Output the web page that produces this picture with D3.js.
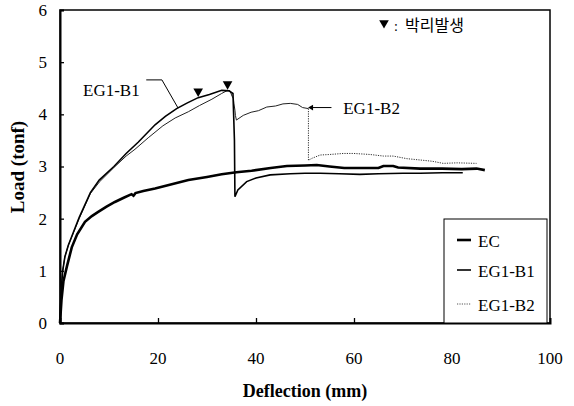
<!DOCTYPE html>
<html>
<head>
<meta charset="utf-8">
<script src="https://d3js.org/d3.v7.min.js"></script>
<style>
  body { margin: 0; background: #fff; }
  text { font-family: "Liberation Serif", "Times New Roman", serif; fill: #000; }
</style>
</head>
<body>
<script>
// ---- data (deflection mm, load tonf) ----
var ecX = [0, 0.3, 0.7, 1.4, 2.4, 3.5, 5.1, 6.5, 7.8, 9.5, 11.2, 13, 14.6, 15, 15.4, 17, 19.4, 22, 26.2, 30, 33, 36, 39.1, 43, 46.3, 50, 52.4, 55, 58, 62, 65, 66, 68, 69, 73.5, 78, 82, 85, 86.7];
var ecY = [0, 0.44, 0.8, 1.08, 1.45, 1.7, 1.94, 2.05, 2.13, 2.23, 2.32, 2.4, 2.47, 2.44, 2.49, 2.53, 2.58, 2.64, 2.74, 2.8, 2.85, 2.89, 2.92, 2.97, 3.01, 3.02, 3.03, 3.0, 2.97, 2.97, 2.97, 3.01, 3.01, 2.98, 2.96, 2.96, 2.95, 2.96, 2.93];

var b1X = [0, 0.2, 0.55, 1.0, 1.7, 3.9, 6.2, 8, 11, 13.5, 16, 19.4, 21.5, 23.8, 26, 28.2, 30.5, 33, 34.5, 35.3, 35.6, 35.7, 36.3, 38.1, 40, 42.9, 47, 50, 53.1, 57, 61.2, 65, 70, 73.5, 78, 82.2];
var b1Y = [0, 0.6, 1.0, 1.27, 1.49, 2.02, 2.5, 2.74, 3.0, 3.25, 3.47, 3.8, 3.96, 4.11, 4.22, 4.32, 4.38, 4.46, 4.45, 4.4, 3.5, 2.42, 2.55, 2.71, 2.78, 2.84, 2.86, 2.87, 2.87, 2.86, 2.85, 2.86, 2.87, 2.87, 2.88, 2.88];

var b2X = [0, 0.2, 0.55, 1.0, 1.7, 3.9, 6.2, 8, 11, 13.5, 15.3, 18, 21, 23.5, 26.2, 28.5, 31, 33, 34.2, 34.7, 35.1, 35.4, 35.5, 35.7, 35.8, 36, 37.4, 39, 40.5, 42.2, 44, 45.5, 47, 48.5, 49.5, 50.7, 50.7, 51.5, 53.1, 55, 57.8, 60, 63.3, 66, 68, 70.8, 74, 76, 78.2, 81, 85];
var b2Y = [0, 0.6, 1.0, 1.27, 1.49, 2.0, 2.48, 2.7, 2.98, 3.2, 3.33, 3.55, 3.78, 3.93, 4.05, 4.17, 4.29, 4.4, 4.46, 4.45, 4.35, 4.3, 4.2, 4.08, 3.98, 3.89, 3.98, 4.04, 4.07, 4.14, 4.16, 4.2, 4.21, 4.19, 4.13, 4.11, 3.12, 3.16, 3.22, 3.23, 3.25, 3.25, 3.23, 3.2, 3.2, 3.15, 3.12, 3.1, 3.06, 3.07, 3.06];
var b2Split = 35; // index where the trace turns dotted (vertical drop at ~50 mm)

// debonding markers (박리발생)
var markX = [28.2, 34.2];
var markY = [4.44, 4.58];

var xTicks = [0, 20, 40, 60, 80, 100];
var yTicks = [0, 1, 2, 3, 4, 5, 6];
var legendNames = ["EC", "EG1-B1", "EG1-B2"];

// ---- layout ----
var width = 574, height = 406;
var plotL = 60, plotR = 550, plotT = 10, plotB = 323;

var svg = d3.select("body").append("svg")
    .attr("width", width)
    .attr("height", height);

var x = d3.scaleLinear().domain([0, 100]).range([plotL, plotR]);
var y = d3.scaleLinear().domain([0, 6]).range([plotB, plotT]);

// frame
svg.append("rect")
    .attr("x", plotL).attr("y", plotT)
    .attr("width", plotR - plotL).attr("height", plotB - plotT)
    .attr("fill", "none").attr("stroke", "#000").attr("stroke-width", 1.5);

// axes with inward ticks
svg.append("g")
    .attr("transform", "translate(" + plotL + ",0)")
    .call(d3.axisRight(y).tickValues(yTicks).tickSize(4).tickFormat(""));
svg.append("g")
    .attr("transform", "translate(0," + plotB + ")")
    .call(d3.axisTop(x).tickValues(xTicks.slice(1, 5)).tickSize(5).tickFormat(""));
svg.selectAll(".domain").attr("stroke-width", 2);
svg.selectAll(".tick line").attr("stroke-width", 1.3);

// tick labels
svg.append("g").selectAll("text")
    .data(yTicks).enter().append("text")
    .attr("x", plotL - 13)
    .attr("y", function(d) { return y(d); })
    .attr("dy", "0.35em")
    .attr("text-anchor", "end")
    .style("font-size", "17px")
    .text(function(d) { return d; });

svg.append("g").selectAll("text")
    .data(xTicks).enter().append("text")
    .attr("x", function(d) { return x(d); })
    .attr("y", 364)
    .attr("text-anchor", "middle")
    .style("font-size", "17px")
    .text(function(d) { return d; });

// axis titles
svg.append("text")
    .attr("x", 305).attr("y", 397)
    .attr("text-anchor", "middle")
    .style("font-size", "18px").style("font-weight", "bold")
    .text("Deflection (mm)");

svg.append("text")
    .attr("transform", "translate(24,167) rotate(-90)")
    .attr("text-anchor", "middle")
    .style("font-size", "19px").style("font-weight", "bold")
    .text("Load (tonf)");

// curves
var line = d3.line()
    .x(function(d) { return x(d[0]); })
    .y(function(d) { return y(d[1]); });

function pts(xs, ys) { return xs.map(function(v, i) { return [v, ys[i]]; }); }

var b2 = pts(b2X, b2Y);
svg.append("path")
    .datum(b2.slice(0, b2Split + 1))
    .attr("d", line)
    .attr("fill", "none").attr("stroke", "#222").attr("stroke-width", 1);
svg.append("path")
    .datum(b2.slice(b2Split))
    .attr("d", line)
    .attr("fill", "none").attr("stroke", "#333").attr("stroke-width", 1)
    .attr("stroke-dasharray", "1.2,1.2");

svg.append("path")
    .datum(pts(b1X, b1Y))
    .attr("d", line)
    .attr("fill", "none").attr("stroke", "#000").attr("stroke-width", 1.6);

svg.append("path")
    .datum(pts(ecX, ecY))
    .attr("d", line)
    .attr("fill", "none").attr("stroke", "#000").attr("stroke-width", 2.6);

// debonding markers
var tri = d3.symbol().type(d3.symbolTriangle).size(40);
svg.append("g").selectAll("path")
    .data(markX).enter().append("path")
    .attr("d", tri)
    .attr("transform", function(d, i) { return "translate(" + x(d) + "," + y(markY[i]) + ") rotate(180)"; })
    .attr("fill", "#000");

// top-right note
svg.append("path")
    .attr("d", tri)
    .attr("transform", "translate(384,23) rotate(180)")
    .attr("fill", "#000");
svg.append("text")
    .attr("x", 394).attr("y", 31)
    .style("font-size", "14px")
    .text(":");
svg.append("text")
    .attr("x", 405).attr("y", 31)
    .style("font-family", "'Noto Sans CJK KR', sans-serif")
    .style("font-size", "16px")
    .text("박리발생");

// curve labels
svg.append("text")
    .attr("x", x(4.7)).attr("y", y(4.35))
    .style("font-size", "17px")
    .text("EG1-B1");
svg.append("path")
    .datum([[17.6, 4.66], [20.8, 4.66], [24.1, 4.12]])
    .attr("d", line)
    .attr("fill", "none").attr("stroke", "#000").attr("stroke-width", 1);

svg.append("text")
    .attr("x", x(57.8)).attr("y", y(4.0))
    .style("font-size", "17px")
    .text("EG1-B2");
svg.append("path")
    .datum([[55.4, 4.13], [51.2, 4.13]])
    .attr("d", line)
    .attr("fill", "none").attr("stroke", "#000").attr("stroke-width", 1);
svg.append("path")
    .attr("d", d3.symbol().type(d3.symbolTriangle).size(14))
    .attr("transform", "translate(" + (x(50.9) + 2) + "," + y(4.13) + ") rotate(-90)")
    .attr("fill", "#000");

// legend
var lg = svg.append("g");
lg.append("rect")
    .attr("x", 444).attr("y", 219)
    .attr("width", 103).attr("height", plotB - 219)
    .attr("fill", "#fff").attr("stroke", "#000").attr("stroke-width", 1);

var legendRows = [240, 270, 304];
var legendWidths = [2.6, 1.6, 1];
var legendDash = [null, null, "1.2,1.2"];
legendNames.forEach(function(name, i) {
    lg.append("line")
        .attr("x1", 457).attr("x2", 471)
        .attr("y1", legendRows[i]).attr("y2", legendRows[i])
        .attr("stroke", i == 2 ? "#555" : "#000")
        .attr("stroke-width", legendWidths[i])
        .attr("stroke-dasharray", legendDash[i]);
    lg.append("text")
        .attr("x", 478).attr("y", legendRows[i] + 7)
        .style("font-size", "17px")
        .text(name);
});
</script>
</body>
</html>
